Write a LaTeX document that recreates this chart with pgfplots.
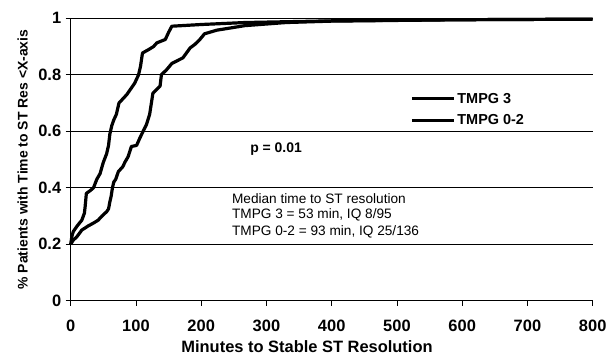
\documentclass[border=0pt]{standalone}
\usepackage{pgfplots}
\pgfplotsset{compat=1.18}
\usepackage{fontspec}
\setmainfont{Liberation Sans}
\begin{document}
\begin{tikzpicture}
\useasboundingbox (-70.7bp,-57.3bp) rectangle (538.3bp,300.7bp);
\begin{axis}[
  at={(0,0)}, anchor=south west,
  scale only axis, width=522bp, height=282.4bp,
  xmin=0, xmax=800, ymin=0, ymax=1,
  axis x line*=bottom, axis y line*=left,
  axis line style={black, line width=0.8pt},
  xtick={0,100,...,800},
  ytick={0,0.2,0.4,0.6,0.8,1},
  yticklabels={0,0.2,0.4,0.6,0.8,1},
  tick align=outside, major tick length=5bp,
  tick style={black, line width=0.8pt},
  ymajorgrids, grid style={black, line width=0.6pt},
  /pgf/number format/assume math mode=true,
  ticklabel style={font=\bfseries\fontsize{16.5}{16.5}\selectfont},
  xticklabel style={yshift=-11bp},
  yticklabel style={xshift=-1bp},
  xlabel={Minutes to Stable ST Resolution},
  ylabel={\% Patients with Time to ST Res <X-axis},
  every axis x label/.style={at={(rel axis cs:0.4527,0)}, anchor=center, yshift=-46bp, font=\bfseries\fontsize{16.5}{16.5}\selectfont},
  every axis y label/.style={at={(rel axis cs:0,0.5)}, xshift=-48bp, rotate=90, anchor=center, font=\bfseries\fontsize{14}{14}\selectfont},
  legend style={at={(axis cs:520,0.743)}, anchor=north west, draw=none, fill=none,
    font=\bfseries\fontsize{14.5}{14.5}\selectfont, row sep=6bp, inner sep=0pt},
  legend cell align=left,
  legend image code/.code={\draw[#1, line width=3.2bp] (0bp,0bp) -- (42bp,0bp);},
  clip=false,
]
\addplot[black, line width=3.2bp, line join=round] coordinates {
(0,0.20) (2,0.23) (4,0.245) (10,0.265) (17,0.285) (21,0.31) (22,0.33) (24,0.38)
(30,0.39) (35,0.40) (40,0.43) (45,0.45) (50,0.49) (55,0.52) (58,0.55) (60,0.59)
(63,0.62) (66,0.64) (70,0.66) (74,0.70) (86,0.73) (92,0.75) (98,0.77) (104,0.80)
(107,0.83) (110,0.877) (120,0.89) (127,0.90) (132,0.913) (145,0.925) (150,0.95)
(155,0.972) (200,0.978) (267,0.985) (400,0.991) (600,0.995) (800,0.997)
};
\addlegendentry{TMPG 3}
\addplot[black, line width=3.2bp, line join=round] coordinates {
(0,0.20) (4,0.215) (9,0.225) (17,0.25) (27,0.265) (35,0.275) (42,0.285) (48,0.30)
(55,0.315) (58,0.325) (60,0.35) (62,0.37) (64,0.40) (66,0.42) (69,0.43) (73,0.457)
(80,0.475) (83,0.49) (88,0.51) (93,0.546) (101,0.55) (106,0.576) (111,0.60)
(116,0.623) (121,0.66) (123,0.69) (126,0.735) (137,0.76) (139,0.80) (147,0.818)
(155,0.84) (172,0.86) (183,0.895) (190,0.907) (198,0.925) (205,0.945) (224,0.958)
(267,0.974) (330,0.985) (400,0.99) (600,0.995) (800,0.997)
};
\addlegendentry{TMPG 0-2}
\node[anchor=west, inner sep=0pt, font=\bfseries\fontsize{14}{14}\selectfont] at (axis cs:275,0.537) {p = 0.01};
\node[anchor=west, inner sep=0pt, font=\fontsize{13.7}{13.7}\selectfont] at (axis cs:247,0.3626) {Median time to ST resolution};
\node[anchor=west, inner sep=0pt, font=\fontsize{13.7}{13.7}\selectfont] at (axis cs:247,0.3036) {TMPG 3 = 53 min, IQ 8/95};
\node[anchor=west, inner sep=0pt, font=\fontsize{13.7}{13.7}\selectfont] at (axis cs:247,0.2446) {TMPG 0-2 = 93 min, IQ 25/136};
\end{axis}
\end{tikzpicture}
\end{document}
